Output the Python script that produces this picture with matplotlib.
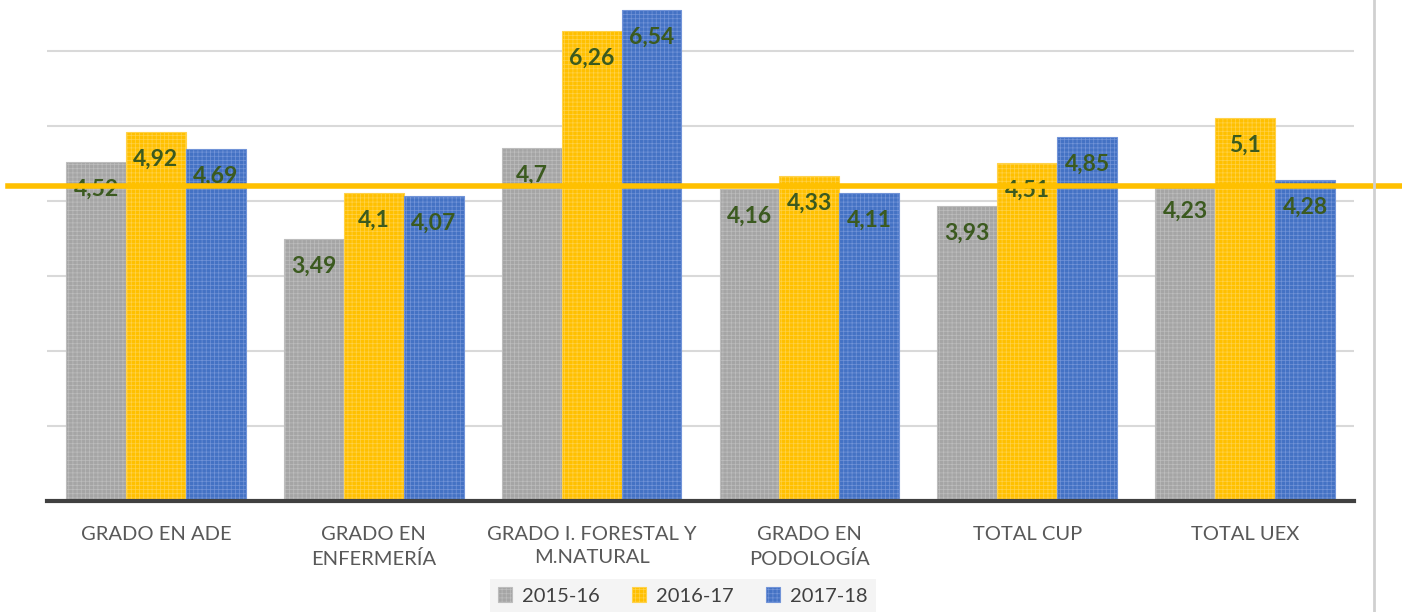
import numpy as np
import matplotlib
matplotlib.use("Agg")
import matplotlib.pyplot as plt

# chart data
categories = ["GRADO EN ADE", "GRADO EN\nENFERMERÍA", "GRADO I. FORESTAL Y\nM.NATURAL",
              "GRADO EN\nPODOLOGÍA", "TOTAL CUP", "TOTAL UEX"]
series_names = ["2015-16", "2016-17", "2017-18"]
vals_1516 = [4.52, 3.49, 4.7, 4.16, 3.93, 4.23]
vals_1617 = [4.92, 4.1, 6.26, 4.33, 4.51, 5.1]
vals_1718 = [4.69, 4.07, 6.54, 4.11, 4.85, 4.28]
ref_line = 4.2

colors = ["#a5a5a5", "#ffc000", "#4472c4"]
hatch_colors = ["#bdbdbd", "#ffd24a", "#7294d8"]
label_color = "#3b5a1f"

plt.rcParams["font.family"] = ["Lato", "DejaVu Sans"]
plt.rcParams["hatch.linewidth"] = 0.5

fig = plt.figure(figsize=(14.02, 6.12), dpi=100)
ax = fig.add_axes([47 / 1402, 111 / 612, 1307 / 1402, 501 / 612])

x = np.arange(len(categories))
w = 0.275
all_vals = [vals_1516, vals_1617, vals_1718]
for i, (name, vals) in enumerate(zip(series_names, all_vals)):
    pos = x + (i - 1) * w
    bars = ax.bar(pos, vals, w, color=colors[i], label=name, zorder=2,
                  edgecolor=hatch_colors[i], linewidth=0.8, hatch="++++")
    for p, v in zip(pos, vals):
        ax.annotate(f"{v:g}".replace(".", ","), (p, v), xytext=(0, -27),
                    textcoords="offset pixels", ha="center", va="center",
                    fontsize=16.5, fontweight="bold", color=label_color, zorder=4)

ax.set_xlim(-0.5, len(categories) - 0.5)
ax.set_ylim(0, 6.68)
ax.set_yticks(range(1, 7))
ax.yaxis.grid(True, color="#d9d9d9", linewidth=1.5, zorder=0)
ax.set_axisbelow(True)
ax.tick_params(axis="y", length=0, labelleft=False)
ax.tick_params(axis="x", length=0, pad=18)
ax.set_xticks(x)
ax.set_xticklabels(categories, fontsize=14.5, color="#595959", linespacing=1.45)
for s in ["top", "right", "left"]:
    ax.spines[s].set_visible(False)
ax.spines["bottom"].set_color("#404040")
ax.spines["bottom"].set_linewidth(3)
ax.spines["bottom"].set_zorder(3)

# average reference line drawn over the bars
ax.axhline(ref_line, xmin=-0.03, xmax=1.04, color="#ffc000", linewidth=4,
           clip_on=False, zorder=5)

# right border line
fig.add_artist(plt.Line2D([1374 / 1402, 1374 / 1402], [0, 1], color="#d0d0d0",
                          linewidth=2, transform=fig.transFigure))

leg = fig.legend(loc="center", bbox_to_anchor=(683 / 1402, 16 / 612), ncol=3,
                 frameon=True, fontsize=14.5, handlelength=0.7, handleheight=0.7,
                 handletextpad=0.5, columnspacing=1.6, borderpad=0.4)
leg.get_frame().set_facecolor("#f2f2f2")
leg.get_frame().set_edgecolor("none")
leg.get_frame().set_boxstyle("square", pad=0.0)
for t in leg.get_texts():
    t.set_color("#404040")

fig.savefig("out.png", dpi=100)
